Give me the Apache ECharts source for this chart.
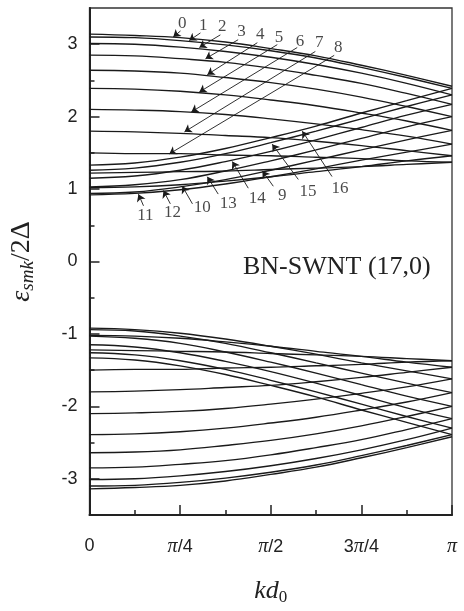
<!DOCTYPE html>
<html>
<head>
<meta charset="utf-8">
<script src="https://cdn.jsdelivr.net/npm/echarts@6/dist/echarts.min.js"></script>
<style>
  html, body { margin: 0; padding: 0; background: #fff; }
  #chart { width: 464px; height: 611px; }
</style>
</head>
<body>
<div id="chart"></div>
<script>
// Wave number kd0, in units of pi
const kd0 = [0, 0.125, 0.25, 0.375, 0.5, 0.625, 0.75, 0.875, 1];

// Subband index m = 0..16 (row order of the arrays below)
const bandIndex = [0, 1, 2, 3, 4, 5, 6, 7, 8, 9, 10, 11, 12, 13, 14, 15, 16];

// Conduction subbands, eps/2Delta at each kd0
const conduction = [
  [3.14, 3.12, 3.09, 3.03, 2.94, 2.84, 2.71, 2.57, 2.42],
  [3.10, 3.09, 3.05, 2.99, 2.91, 2.81, 2.68, 2.54, 2.39],
  [3.01, 3.00, 2.96, 2.90, 2.82, 2.72, 2.60, 2.46, 2.30],
  [2.85, 2.84, 2.80, 2.75, 2.67, 2.57, 2.46, 2.32, 2.17],
  [2.64, 2.63, 2.60, 2.54, 2.47, 2.38, 2.27, 2.14, 2.00],
  [2.39, 2.38, 2.35, 2.30, 2.23, 2.15, 2.05, 1.94, 1.81],
  [2.10, 2.09, 2.07, 2.03, 1.97, 1.90, 1.82, 1.73, 1.62],
  [1.80, 1.79, 1.77, 1.74, 1.71, 1.66, 1.60, 1.53, 1.46],
  [1.50, 1.49, 1.49, 1.47, 1.46, 1.44, 1.42, 1.39, 1.37],
  [1.22, 1.23, 1.24, 1.25, 1.27, 1.29, 1.31, 1.34, 1.37],
  [1.02, 1.03, 1.06, 1.11, 1.17, 1.24, 1.31, 1.39, 1.46],
  [0.92, 0.94, 0.99, 1.07, 1.17, 1.28, 1.40, 1.51, 1.62],
  [0.94, 0.96, 1.03, 1.13, 1.26, 1.40, 1.54, 1.68, 1.81],
  [1.03, 1.06, 1.13, 1.25, 1.39, 1.54, 1.70, 1.86, 2.00],
  [1.15, 1.18, 1.26, 1.38, 1.52, 1.68, 1.85, 2.02, 2.17],
  [1.26, 1.29, 1.37, 1.49, 1.64, 1.80, 1.97, 2.14, 2.30],
  [1.33, 1.36, 1.44, 1.56, 1.71, 1.87, 2.05, 2.22, 2.39]
];

// Valence subbands, eps/2Delta at each kd0
const valence = [
  [-3.14, -3.12, -3.09, -3.03, -2.94, -2.84, -2.71, -2.57, -2.42],
  [-3.10, -3.09, -3.05, -2.99, -2.91, -2.81, -2.68, -2.54, -2.39],
  [-3.01, -3.00, -2.96, -2.90, -2.82, -2.72, -2.60, -2.46, -2.30],
  [-2.85, -2.84, -2.80, -2.75, -2.67, -2.57, -2.46, -2.32, -2.17],
  [-2.64, -2.63, -2.60, -2.54, -2.47, -2.38, -2.27, -2.14, -2.00],
  [-2.39, -2.38, -2.35, -2.30, -2.23, -2.15, -2.05, -1.94, -1.81],
  [-2.10, -2.09, -2.07, -2.03, -1.97, -1.90, -1.82, -1.73, -1.62],
  [-1.80, -1.79, -1.77, -1.74, -1.71, -1.66, -1.60, -1.53, -1.46],
  [-1.50, -1.49, -1.49, -1.47, -1.46, -1.44, -1.42, -1.39, -1.37],
  [-1.22, -1.23, -1.24, -1.25, -1.27, -1.29, -1.31, -1.34, -1.37],
  [-1.02, -1.03, -1.06, -1.11, -1.17, -1.24, -1.31, -1.39, -1.46],
  [-0.92, -0.94, -0.99, -1.07, -1.17, -1.28, -1.40, -1.51, -1.62],
  [-0.94, -0.96, -1.03, -1.13, -1.26, -1.40, -1.54, -1.68, -1.81],
  [-1.03, -1.06, -1.13, -1.25, -1.39, -1.54, -1.70, -1.86, -2.00],
  [-1.15, -1.18, -1.26, -1.38, -1.52, -1.68, -1.85, -2.02, -2.17],
  [-1.26, -1.29, -1.37, -1.49, -1.64, -1.80, -1.97, -2.14, -2.30],
  [-1.33, -1.36, -1.44, -1.56, -1.71, -1.87, -2.05, -2.22, -2.39]
];

// Axis tick labels
const xTickLabels = ['0', '{i|\u03c0}/4', '{i|\u03c0}/2', '3{i|\u03c0}/4', '{i|\u03c0}'];
const yMajorTicks = [-3, -2, -1, 0, 1, 2, 3];
const yHalfTicks = [-2.5, -1.5, -0.5, 0.5, 1.5, 2.5];

// Band-index callouts: [text, textX, textY, tailX, tailY, tipX, tipY] in data units
const callouts = [
  ['0', 0.256, 3.29, 0.251, 3.183, 0.231, 3.10],
  ['1', 0.314, 3.26, 0.306, 3.156, 0.275, 3.05],
  ['2', 0.366, 3.24, 0.361, 3.129, 0.303, 2.955],
  ['3', 0.419, 3.17, 0.410, 3.062, 0.320, 2.80],
  ['4', 0.471, 3.13, 0.463, 3.021, 0.325, 2.58],
  ['5', 0.523, 3.09, 0.518, 2.994, 0.303, 2.34],
  ['6', 0.581, 3.035, 0.573, 2.954, 0.281, 2.065],
  ['7', 0.634, 3.02, 0.623, 2.900, 0.262, 1.79],
  ['8', 0.686, 2.95, 0.675, 2.846, 0.220, 1.485],
  ['11', 0.154, 0.634, 0.149, 0.769, 0.135, 0.93],
  ['12', 0.229, 0.674, 0.223, 0.796, 0.204, 0.98],
  ['10', 0.311, 0.742, 0.284, 0.796, 0.256, 1.04],
  ['13', 0.383, 0.796, 0.355, 0.931, 0.325, 1.17],
  ['14', 0.463, 0.863, 0.438, 1.012, 0.394, 1.38],
  ['9', 0.532, 0.917, 0.507, 1.039, 0.477, 1.25],
  ['15', 0.603, 0.971, 0.576, 1.133, 0.504, 1.62],
  ['16', 0.691, 1.012, 0.669, 1.173, 0.587, 1.80]
];

const INK = '#1a1a1a';
const SERIF = '"Liberation Serif", "DejaVu Serif", serif';
const SANS = '"Liberation Sans", Arial, sans-serif';

const series = [];
function addBand(vals, m, kind) {
  series.push({
    name: kind + m,
    type: 'line',
    data: kd0.map((k, j) => [k, vals[j]]),
    smooth: 0.4,
    showSymbol: false,
    silent: true,
    lineStyle: { color: INK, width: 1.35 },
    z: 3
  });
}
conduction.forEach((vals, i) => addBand(vals, bandIndex[i], 'c'));
valence.forEach((vals, i) => addBand(vals, bandIndex[i], 'v'));

// Arrows pointing at the labelled subbands
series.push({
  type: 'lines',
  coordinateSystem: 'cartesian2d',
  silent: true,
  symbol: ['none', 'arrow'],
  symbolSize: 7,
  lineStyle: { color: INK, width: 0.9, opacity: 1, curveness: 0 },
  data: callouts.map(c => ({ coords: [[c[3], c[4]], [c[5], c[6]]] })),
  z: 4
});

// Band-index numbers
series.push({
  type: 'scatter',
  silent: true,
  symbolSize: 0,
  data: callouts.map(c => ({ name: c[0], value: [c[1], c[2]] })),
  label: {
    show: true,
    position: 'inside',
    formatter: p => p.name,
    fontFamily: SERIF,
    fontSize: 17,
    color: INK
  },
  z: 5
});

const chart = echarts.init(document.getElementById('chart'), null, { renderer: 'canvas' });
chart.setOption({
  animation: false,
  backgroundColor: '#fff',
  grid: {
    left: 89, right: 12, top: 8, bottom: 84,
    show: true, borderColor: '#333', borderWidth: 1.3, backgroundColor: 'transparent'
  },
  xAxis: {
    type: 'value',
    min: 0, max: 1, interval: 0.25,
    axisLine: { show: true, onZero: false, lineStyle: { color: '#222', width: 2 } },
    axisTick: { show: true, inside: true, length: 10, lineStyle: { color: '#222', width: 1.5 } },
    minorTick: { show: true, splitNumber: 2, length: 5, lineStyle: { color: '#222', width: 1.5 } },
    splitLine: { show: false },
    minorSplitLine: { show: false },
    axisLabel: {
      margin: 22,
      fontFamily: SANS,
      fontSize: 18,
      color: '#222',
      formatter: v => xTickLabels[Math.round(v / 0.25)],
      rich: { i: { fontFamily: SERIF, fontStyle: 'italic', fontSize: 20, color: '#222' } }
    },
    name: '{i|kd}{s|0}',
    nameLocation: 'middle',
    nameGap: 62,
    nameTextStyle: {
      rich: {
        i: { fontFamily: SERIF, fontStyle: 'italic', fontSize: 26, color: '#222' },
        s: { fontFamily: SERIF, fontSize: 17, color: '#222', verticalAlign: 'bottom', padding: [12, 0, 0, 0] }
      }
    }
  },
  yAxis: [
    {
      type: 'value',
      min: -3.5, max: 3.5, interval: 0.5,
      axisLine: { show: true, onZero: false, lineStyle: { color: '#222', width: 2 } },
      axisTick: { show: true, inside: true, length: 10, customValues: yMajorTicks, lineStyle: { color: '#222', width: 1.5 } },
      splitLine: { show: false },
      axisLabel: {
        margin: 12,
        fontFamily: SANS,
        fontSize: 18,
        color: '#222',
        customValues: yMajorTicks
      },
      name: '{e|\u03b5}{s|smk}{n|/2\u0394}',
      nameLocation: 'middle',
      nameRotate: 90,
      nameGap: 52,
      nameTextStyle: {
        rich: {
          e: { fontFamily: SERIF, fontStyle: 'italic', fontSize: 28, color: '#222' },
          s: { fontFamily: SERIF, fontStyle: 'italic', fontSize: 19, color: '#222', padding: [12, 0, 0, 0] },
          n: { fontFamily: SERIF, fontSize: 28, color: '#222' }
        }
      }
    },
    {
      type: 'value',
      position: 'left',
      min: -3.5, max: 3.5, interval: 0.5,
      axisLine: { show: false },
      axisTick: { show: true, inside: true, length: 5, customValues: yHalfTicks, lineStyle: { color: '#222', width: 1.5 } },
      axisLabel: { show: false },
      splitLine: { show: false }
    }
  ],
  graphic: [
    {
      type: 'text',
      left: 243,
      top: 254,
      silent: true,
      style: { text: 'BN-SWNT (17,0)', font: '26px "Liberation Serif"', fill: '#222' }
    }
  ],
  series: series
});
</script>
</body>
</html>
